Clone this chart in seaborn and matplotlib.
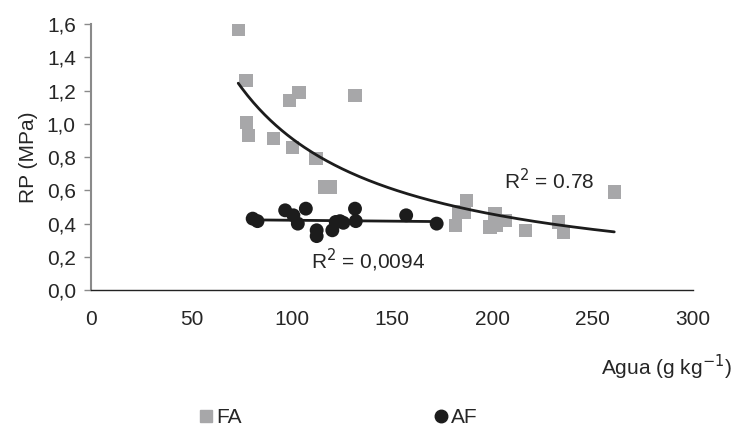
import numpy as np
import pandas as pd
import seaborn as sns
import matplotlib
matplotlib.use("Agg")
from matplotlib import pyplot as plt
from matplotlib.lines import Line2D

# FA series (grey squares)
fa_agua = [73.3, 77.2, 77.6, 78.6, 90.7, 98.8, 100.5, 103.6, 112.1, 116.5, 119.0,
           131.5, 181.4, 182.9, 186.0, 187.2, 198.8, 201.3, 202.1, 206.3, 216.6,
           232.9, 235.3, 260.7]
fa_rp = [1.57, 1.26, 1.01, 0.93, 0.91, 1.14, 0.86, 1.19, 0.79, 0.62, 0.62,
         1.17, 0.39, 0.47, 0.47, 0.54, 0.38, 0.46, 0.39, 0.42, 0.36,
         0.41, 0.35, 0.59]

# AF series (black circles)
af_agua = [80.5, 82.9, 96.7, 100.8, 103.0, 107.0, 112.4, 112.4, 120.2, 121.9,
           124.0, 125.7, 131.5, 131.9, 157.0, 172.2]
af_rp = [0.43, 0.415, 0.48, 0.45, 0.40, 0.49, 0.36, 0.325, 0.36, 0.41,
         0.415, 0.405, 0.49, 0.415, 0.45, 0.40]

y_ticks = [0.0, 0.2, 0.4, 0.6, 0.8, 1.0, 1.2, 1.4, 1.6]
x_ticks = [0, 50, 100, 150, 200, 250, 300]

fa = pd.DataFrame({"agua": fa_agua, "rp": fa_rp})
af = pd.DataFrame({"agua": af_agua, "rp": af_rp})

sns.set_style("white")
plt.rcParams['font.family'] = ['Liberation Sans', 'DejaVu Sans']
fs = 15

fig = plt.figure(figsize=(7.35, 4.28), dpi=100)
ax = fig.add_axes([0.124, 0.322, 0.819, 0.622])

grey = "#a7a7a9"
black = "#1c1c1c"

sns.scatterplot(data=fa, x="agua", y="rp", marker="s", s=90, color=grey,
                edgecolor="none", ax=ax, zorder=2)
sns.scatterplot(data=af, x="agua", y="rp", marker="o", s=100, color=black,
                edgecolor="none", ax=ax, zorder=3)

# power trendline for FA
b, ln_a = np.polyfit(np.log(fa.agua), np.log(fa.rp), 1)
xs = np.linspace(fa.agua.min(), fa.agua.max(), 200)
ax.plot(xs, np.exp(ln_a) * xs ** b, color=black, lw=2, zorder=4)

# linear trendline for AF
m, c = np.polyfit(af.agua, af.rp, 1)
xl = np.array([af.agua.min(), af.agua.max()])
ax.plot(xl, m * xl + c, color=black, lw=2, zorder=4)

ax.text(228.5, 0.66, "R$^2$ = 0.78", fontsize=fs, ha="center", va="center")
ax.text(138, 0.18, "R$^2$ = 0,0094", fontsize=fs, ha="center", va="center")

ax.set_xlim(0, 300)
ax.set_ylim(0, 1.6)
ax.set_xticks(x_ticks)
ax.set_xticklabels([str(t) for t in x_ticks], fontsize=fs)
ax.set_yticks(y_ticks)
ax.set_yticklabels([f"{t:.1f}".replace(".", ",") for t in y_ticks], fontsize=fs)
ax.tick_params(axis="y", direction="out", length=5, width=1, color="#8a8a8a",
               left=True, pad=6)
ax.tick_params(axis="x", length=0, pad=14)

for s in ["top", "right"]:
    ax.spines[s].set_visible(False)
ax.spines["left"].set_color("#8a8a8a")
ax.spines["left"].set_linewidth(1.5)
ax.spines["bottom"].set_color("#222222")
ax.spines["bottom"].set_linewidth(1)

ax.set_xlabel("")
ax.set_ylabel("RP (MPa)", fontsize=fs, labelpad=6)
fig.text(732 / 735, 1 - 367 / 428, "Agua (g kg$^{-1}$)", fontsize=fs,
         ha="right", va="center")

h_fa = Line2D([], [], marker="s", color=grey, ls="none", markersize=8)
h_af = Line2D([], [], marker="o", color=black, ls="none", markersize=9)
fig.legend([h_fa], ["FA"], loc="center left", bbox_to_anchor=(0.240, 0.025),
           frameon=False, fontsize=fs, handletextpad=0.0, handlelength=1)
fig.legend([h_af], ["AF"], loc="center left", bbox_to_anchor=(0.560, 0.025),
           frameon=False, fontsize=fs, handletextpad=0.0, handlelength=1)

fig.savefig("out.png", dpi=100)
